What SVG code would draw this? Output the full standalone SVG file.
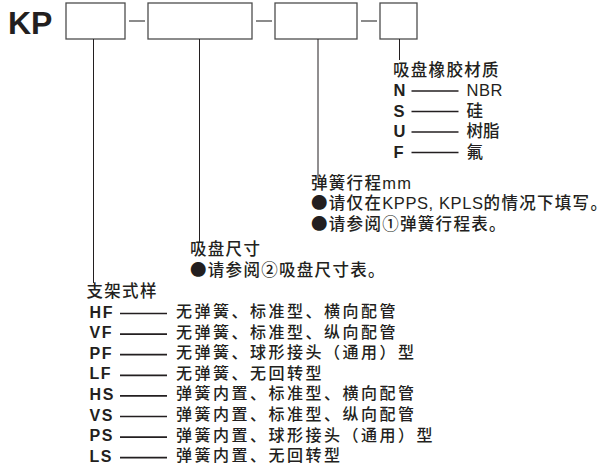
<svg xmlns="http://www.w3.org/2000/svg" width="599" height="468" viewBox="0 0 599 468">
<style>
.box{fill:#fff;stroke:#4d4d4d;stroke-width:1.3}
.sep{stroke:#4d4d4d;stroke-width:1.3}
.lead{stroke:#231f20;stroke-width:1;fill:none}
.dash{stroke:#231f20;stroke-width:1.7}
text{fill:#231f20;font-family:"Noto Sans CJK SC","Liberation Sans",sans-serif;font-weight:500}
.kp{font-family:"Liberation Sans",Arial,sans-serif;font-weight:bold;font-size:32px}
.hd{font-size:16.5px;letter-spacing:1.3px}
.lat{font-family:"Liberation Sans",Arial,sans-serif;font-weight:normal}
.code{font-family:"Liberation Sans",Arial,sans-serif;font-weight:bold;font-size:16px;letter-spacing:1.6px}
.code2{font-family:"Liberation Sans",Arial,sans-serif;font-weight:bold;font-size:16.5px}
.desc{font-size:16px;letter-spacing:2.5px}
.val{font-size:16.5px}
</style>
<g id="title"><text class="kp" x="8" y="34">KP</text></g>
<g id="box1"><rect class="box" x="66" y="3" width="59" height="36"/></g>
<g id="box2"><rect class="box" x="148" y="3" width="104" height="36"/></g>
<g id="box3"><rect class="box" x="275" y="3" width="82" height="36"/></g>
<g id="box4"><rect class="box" x="380" y="3" width="37" height="36"/></g>
<g id="connectors">
<line class="sep" x1="129" y1="21" x2="145" y2="21"/>
<line class="sep" x1="256" y1="21" x2="272" y2="21"/>
<line class="sep" x1="361" y1="21" x2="377" y2="21"/>
<line class="lead" x1="93.5" y1="39" x2="93.5" y2="283"/>
<line class="lead" x1="199.5" y1="39" x2="199.5" y2="243"/>
<line class="lead" x1="318" y1="39" x2="318" y2="178"/>
<line class="lead" x1="399.5" y1="39" x2="399.5" y2="60"/>
</g>
<g id="material">
<text class="hd" x="393" y="75.5">吸盘橡胶材质</text>
<text class="code2" x="393.5" y="96">N</text>
<text class="code2" x="393.5" y="116.5">S</text>
<text class="code2" x="393.5" y="137">U</text>
<text class="code2" x="393.5" y="157.5">F</text>
<line class="dash" x1="411.5" y1="91" x2="458.5" y2="91"/>
<line class="dash" x1="411.5" y1="111.5" x2="458.5" y2="111.5"/>
<line class="dash" x1="411.5" y1="132" x2="458.5" y2="132"/>
<line class="dash" x1="411.5" y1="152.5" x2="458.5" y2="152.5"/>
<text class="val lat" x="466.5" y="96" style="letter-spacing:0.6px">NBR</text>
<text class="val" x="466.5" y="116.5">硅</text>
<text class="val" x="466.5" y="137">树脂</text>
<text class="val" x="466.5" y="157.5">氟</text>
</g>
<g id="stroke">
<text class="hd" x="311" y="188.5">弹簧行程<tspan class="lat">mm</tspan></text>
<text class="hd" x="311" y="209">●请仅在<tspan class="lat" style="letter-spacing:0.6px">KPPS, KPLS</tspan>的情况下填写。</text>
<text class="hd" x="311" y="230">●请参阅①弹簧行程表。</text>
</g>
<g id="padsize">
<text class="hd" x="190" y="255">吸盘尺寸</text>
<text class="hd" x="190" y="275.5">●请参阅②吸盘尺寸表。</text>
</g>
<g id="bracket">
<text class="hd" x="86.5" y="297">支架式样</text>
<text class="code" x="89.5" y="317.5">HF</text>
<text class="code" x="89.5" y="338.1">VF</text>
<text class="code" x="89.5" y="358.7">PF</text>
<text class="code" x="89.5" y="379.3">LF</text>
<text class="code" x="89.5" y="399.9">HS</text>
<text class="code" x="89.5" y="420.5">VS</text>
<text class="code" x="89.5" y="441.1">PS</text>
<text class="code" x="89.5" y="461.7">LS</text>
<line class="dash" x1="120" y1="313.5" x2="167" y2="313.5"/>
<line class="dash" x1="120" y1="334.1" x2="167" y2="334.1"/>
<line class="dash" x1="120" y1="354.7" x2="167" y2="354.7"/>
<line class="dash" x1="120" y1="375.3" x2="167" y2="375.3"/>
<line class="dash" x1="120" y1="395.9" x2="167" y2="395.9"/>
<line class="dash" x1="120" y1="416.5" x2="167" y2="416.5"/>
<line class="dash" x1="120" y1="437.1" x2="167" y2="437.1"/>
<line class="dash" x1="120" y1="457.7" x2="167" y2="457.7"/>
<text class="desc" x="176" y="317">无弹簧、标准型、横向配管</text>
<text class="desc" x="176" y="337.6">无弹簧、标准型、纵向配管</text>
<text class="desc" x="176" y="358.2">无弹簧、球形接头（通用）型</text>
<text class="desc" x="176" y="378.8">无弹簧、无回转型</text>
<text class="desc" x="176" y="399.4">弹簧内置、标准型、横向配管</text>
<text class="desc" x="176" y="420">弹簧内置、标准型、纵向配管</text>
<text class="desc" x="176" y="440.6">弹簧内置、球形接头（通用）型</text>
<text class="desc" x="176" y="461.2">弹簧内置、无回转型</text>
</g>
</svg>
